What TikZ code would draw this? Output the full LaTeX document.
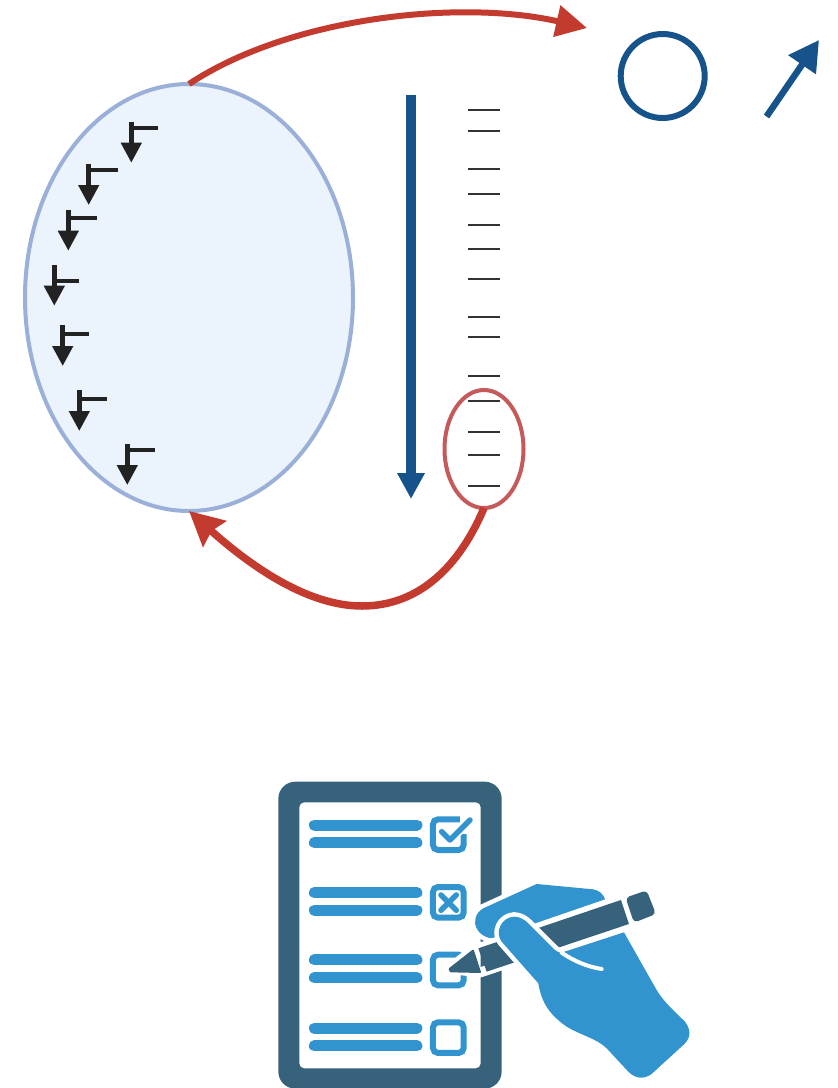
\documentclass[tikz,border=0pt]{standalone}
\usepackage{xcolor}
\usepackage{tikz}
\usetikzlibrary{shapes.geometric, arrows.meta, positioning, calc}

\definecolor{redarc}{HTML}{C33B2F}
\definecolor{redring}{HTML}{C55A5A}
\definecolor{deepblue}{HTML}{15538A}
\definecolor{ballfill}{HTML}{EBF3FC}
\definecolor{ballline}{HTML}{9BB0D8}
\definecolor{spindark}{HTML}{222222}
\definecolor{slate}{HTML}{36627C}
\definecolor{handblue}{HTML}{3194CF}

\begin{document}
\begin{tikzpicture}[
        x=1pt, y=-1pt,
        ball/.style={ellipse, draw=ballline, fill=ballfill, line width=4pt, minimum width=328pt, minimum height=427pt, inner sep=0pt, outer sep=0pt},
        ring/.style={ellipse, draw=redring, line width=4pt, minimum width=79pt, minimum height=118pt, inner sep=0pt, outer sep=0pt},
        hollow/.style={circle, draw=deepblue, line width=6pt, minimum size=84pt, inner sep=0pt, outer sep=0pt},
        arc/.style={redarc},
        blueline/.style={deepblue, -{Triangle[length=26pt, width=26pt]}},
        stem/.style={spindark, line width=4.5pt, -{Triangle[length=20pt, width=20pt]}},
        flag/.style={spindark, line width=4pt},
        level/.style={black!80, line width=2pt},
        rowline/.style={handblue, line width=11pt, line cap=round},
        tickbox/.style={handblue, line width=6pt, rounded corners=5pt},
        halo/.style={preaction={draw=white, line width=9pt, line join=round}}
    ]
    \useasboundingbox (0,0) rectangle (838,1088);

    % Sphere and the spins on its rim
    \node[ball] (Ball) at (189,297.5) {};
    \foreach \sx/\st/\sf/\se/\sb in {131.3/121.7/127.7/157.7/162.7, 88.7/164.3/170.3/117.7/205,
            68.3/209.7/218.3/97/250.7, 54.3/265/280.7/79.3/305.7, 62.7/325.3/334.3/89/366,
            79.3/390.3/399.3/107/431, 127.3/444/450.3/155.3/485} {
        \draw[stem] (\sx,\st) -- (\sx,\sb);
        \draw[flag] (\sx,\sf) -- (\se,\sf);
    }

    % Levels
    \foreach \ly in {110,131,169,194,225,249,279,317,337,376,401,432,455,486} {
        \draw[level] (468,\ly) -- (500,\ly);
    }
    \node[ring] (Ring) at (484,449) {};

    % Blue arrow down the levels
    \coordinate (DownTop) at (411,95);
    \coordinate (DownEnd) at (411,499);
    \draw[blueline, line width=10pt] (DownTop) -- (DownEnd);

    % Total moment
    \node[hollow] (Net) at (662.7,76) {};
    \coordinate (UpFoot) at (766.5,116.5);
    \coordinate (UpTip) at (819,40);
    \draw[blueline, line width=6.5pt, -{Triangle[length=30pt, width=32pt]}] (UpFoot) -- (UpTip);

    % Red arcs
    \coordinate (NetIn) at (587,28);
    \coordinate (ArcLow) at (362,606);
    \draw[arc, line width=6pt, -{Triangle[length=31pt, width=31pt]}] (Ball.north) .. controls (290,17) and (460,-1) .. (NetIn);
    \draw[arc, line width=7.5pt, -{Stealth[length=34pt, width=34pt, inset=4pt]}] (Ring.south) .. controls (460,565) and (420,606) .. (ArcLow)
        .. controls (310,606) and (255,570) .. (Ball.south);

    % Checklist with the hand, in the scale of a 3x crop
    \begin{scope}[shift={(260,770)}, x=0.3333pt, y=-0.3333pt]
        \fill[slate, rounded corners=17pt] (55,35) rectangle (725,956);
        \fill[white, rounded corners=5pt] (118,97) rectangle (662,895);
        \foreach \ry in {165,368,570,775} {
            \draw[rowline] (163,\ry) -- (471,\ry);
            \draw[rowline] (163,\ry+53) -- (471,\ry+53);
        }

        % Boxes
        \draw[tickbox] (611,192) -- (611,240) -- (519,240) -- (519,148) -- (600,148);
        \draw[white, line width=9pt, line cap=round] (545,185) -- (570,210) -- (630,150);
        \draw[handblue, line width=5.5pt, line cap=round, line join=round] (545,185) -- (570,210) -- (630,150);
        \draw[tickbox] (519,351) rectangle (611,443);
        \draw[handblue, line width=5.5pt, line cap=round] (543,375) -- (589,421);
        \draw[handblue, line width=5.5pt, line cap=round] (589,375) -- (543,421);
        \draw[tickbox] (519,554) rectangle (611,646);
        \draw[tickbox] (519,757) rectangle (611,849);

        % Back of the hand
        \fill[handblue, halo] (670,415) -- (830,342) -- (1000,358)
            .. controls (1020,362) and (1030,372) .. (1037,392)
            -- (820,470) -- (720,505)
            .. controls (650,515) and (620,445) .. (670,415) -- cycle;

        % Pen
        \draw[white, line width=10pt, line join=round] (567,597) -- (640,540) -- (1155,363) -- (1187,430) -- (662,607) -- cycle;
        \fill[slate, draw=slate, line width=2pt, line join=round] (569,597) -- (639,542) -- (660,606) -- (572,604) -- cycle;
        \fill[slate] (655,535) -- (1083,390) -- (1107,462) -- (680,605) -- cycle;
        \fill[slate, rounded corners=4pt] (1097,383) -- (1160,361) -- (1188,432) -- (1122,458) -- cycle;

        % Palm and thumb
        \fill[handblue, halo] (725,515)
            .. controls (703,485) and (725,442) .. (762,440)
            .. controls (780,440) and (795,450) .. (805,460)
            -- (885,540) .. controls (892,546) and (898,548) .. (905,548)
            -- (1092,487) -- (1190,660)
            .. controls (1210,695) and (1250,730) .. (1275,755)
            .. controls (1298,785) and (1288,810) .. (1270,825)
            -- (1175,912)
            .. controls (1150,930) and (1125,925) .. (1105,905)
            -- (1040,835)
            .. controls (1010,805) and (960,795) .. (920,770)
            .. controls (870,735) and (845,700) .. (835,640) -- cycle;
        \draw[white, line width=4pt, line cap=round] (905,548) .. controls (940,572) and (980,590) .. (1025,597);
    \end{scope}
\end{tikzpicture}
\end{document}
